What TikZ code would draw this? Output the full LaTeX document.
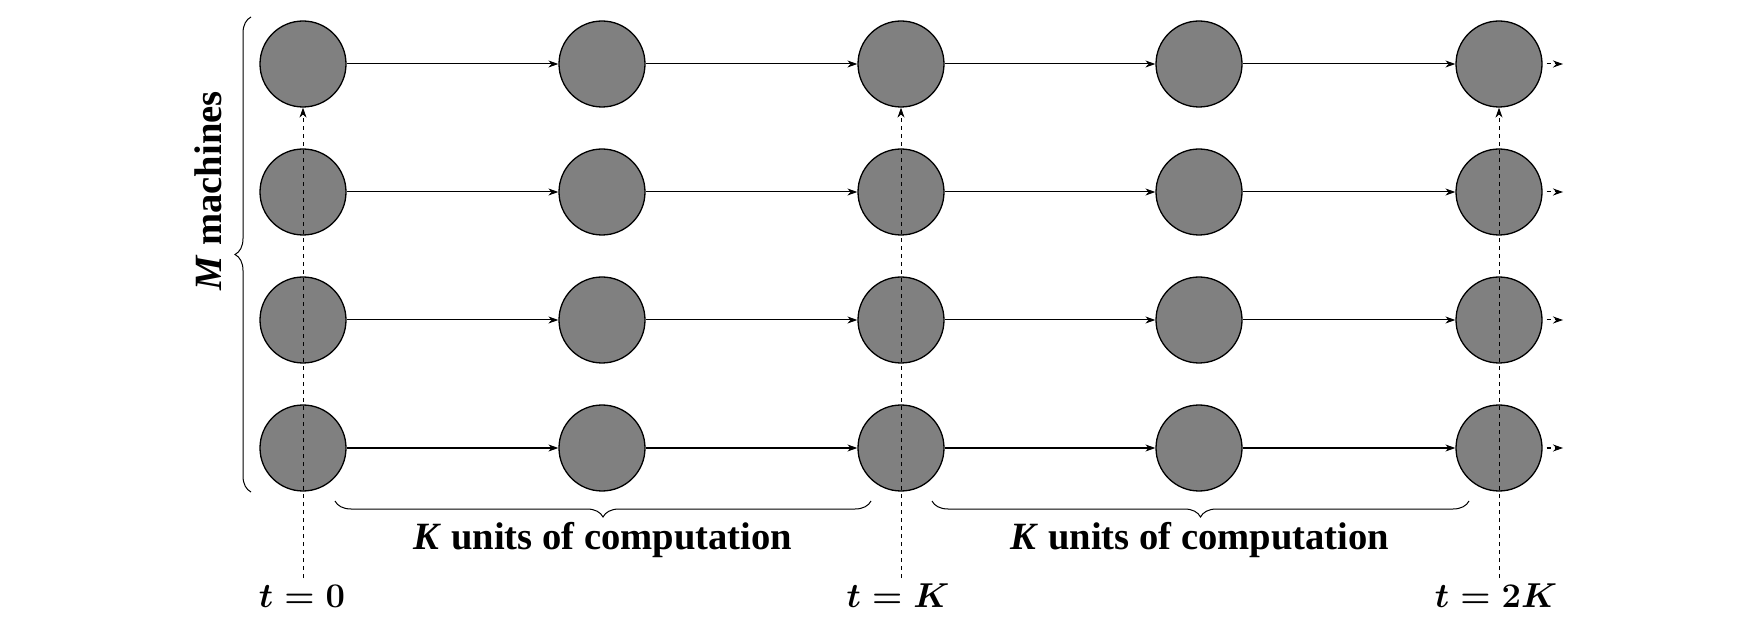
\documentclass[tikz,border=0pt]{standalone}
\usepackage{fontspec}
\setmainfont{Liberation Serif}
\usetikzlibrary{decorations.pathreplacing,arrows.meta}
\begin{document}
\begin{tikzpicture}[x=0.5pt,y=-0.5pt,
  machine/.style={circle,draw=black,fill={rgb,255:red,128;green,128;blue,128},line width=0.65pt,minimum size=43pt,inner sep=0pt},
  flow/.style={-{Stealth[length=5pt,width=3.5pt]},line width=0.5pt},
  sync/.style={-{Stealth[length=5pt,width=3.5pt]},dash pattern=on 2pt off 2pt,line width=0.5pt},
  lbl/.style={font=\fontsize{19.3}{23}\selectfont\bfseries,inner sep=0pt},
  tlbl/.style={font=\fontsize{17.2}{20}\selectfont\boldmath,inner sep=0pt},
  brc/.style={decorate,decoration={brace,amplitude=8pt},line width=0.5pt}]
\useasboundingbox (0,0) rectangle (1761,625);
\foreach \c/\x in {0/303,1/602,2/901,3/1199,4/1499}
  \foreach \r/\y in {0/64,1/192,2/320,3/448}
    \node[machine] (n\r\c) at (\x,\y) {};
\foreach \r in {0,...,3}{
  \foreach \c [evaluate=\c as \d using int(\c+1)] in {0,...,3}
    \draw[flow] (n\r\c) -- (n\r\d);
}
\foreach \r/\y in {0/64,1/192,2/320,3/448}{
  \coordinate (e\r) at (1563,\y);
  \draw[sync] ([xshift=2pt]n\r4.east) -- (e\r);
}
\node[tlbl,anchor=base] (t0) at (302,607) {$t=0$};
\node[tlbl,anchor=base] (tK) at (898,607) {$t=K$};
\node[tlbl,anchor=base] (t2K) at (1496,607) {$t=2K$};
\draw[sync] (n30 |- 0,578) -- (n00.south);
\draw[sync] (n32 |- 0,578) -- (n02.south);
\draw[sync] (n34 |- 0,578) -- (n04.south);
\coordinate (lb) at (251,492);
\coordinate (lt) at (251,17);
\draw[brc] (lb) -- (lt);
\node[lbl,rotate=90] (mm) at (208,191) {\textit{M} machines};
\coordinate (b1r) at (871,501);
\coordinate (b1l) at (335,501);
\coordinate (b2r) at (1469,501);
\coordinate (b2l) at (932,501);
\draw[brc] (b1r) -- (b1l);
\draw[brc] (b2r) -- (b2l);
\node[lbl,anchor=base] (k1) at (603,549) {\textit{K} units of computation};
\node[lbl,anchor=base] (k2) at (1200,549) {\textit{K} units of computation};
\end{tikzpicture}
\end{document}
